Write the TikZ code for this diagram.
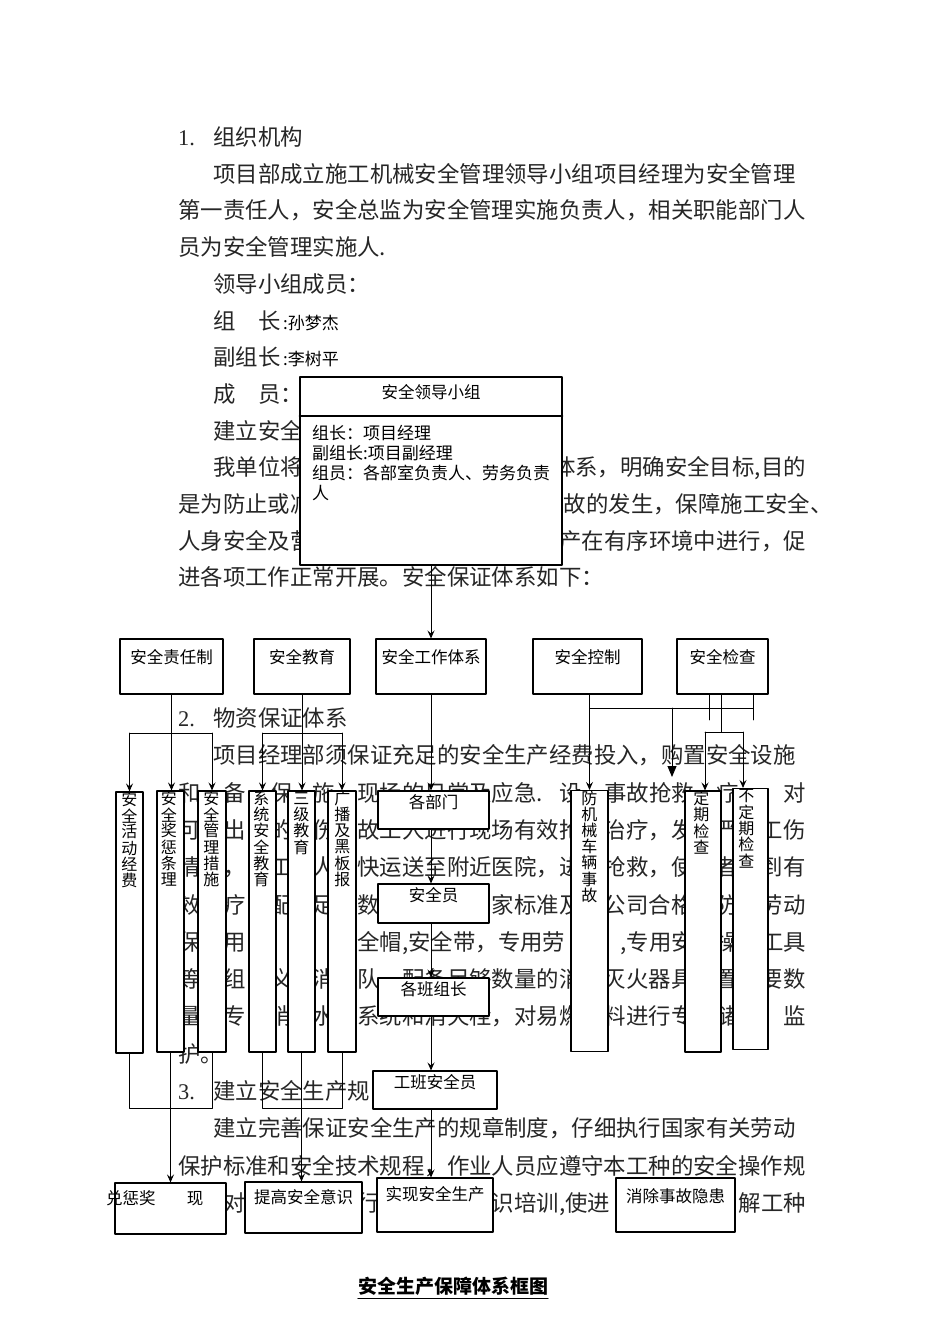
\documentclass[tikz,border=0pt]{standalone}
\usepackage{fontspec}
\setmainfont{Noto Sans CJK SC}
\newfontfamily\numfont{Liberation Serif}
\usetikzlibrary{arrows.meta,calc}

\newcommand{\bodysize}{\fontsize{22.4}{26}\selectfont}
\newcommand{\boxsize}{\fontsize{16.5}{20}\selectfont}
\newcommand{\memsize}{\fontsize{17}{20}\selectfont}
\newcommand{\colsize}{\fontsize{16}{16}\selectfont}

% one character per row down a tall box: [x offset] box, prefix, characters
\newcommand{\colchars}[4][14]{%
  \foreach \vchar [count=\idx] in {#4}
    \node[colchar] (#3\idx) at ($(#2.north west)+(#1,8+16.2*\idx-16.2)$) {\vchar};}

\begin{document}
\begin{tikzpicture}[
  x=1pt, y=-1pt,
  line cap=round,
  line join=round,
  >={Stealth[length=8pt,width=7pt,inset=3pt]},
  para/.style={anchor=base west,inner sep=0pt,font=\bodysize,text=black!85},
  paraend/.style={anchor=base east,inner sep=0pt,font=\bodysize,text=black!85},
  paranum/.style={anchor=base west,inner sep=0pt,font=\numfont\bodysize,text=black!85},
  member/.style={anchor=base west,inner sep=0pt,font=\memsize},
  unit/.style={draw,fill=white,line width=1.1pt,inner sep=0pt},
  tall/.style={unit,minimum width=#1,minimum height=261pt},
  chain/.style={unit,minimum width=111pt,minimum height=38pt},
  boxtext/.style={anchor=center,inner sep=0pt,font=\boxsize,yshift=-#1},
  colchar/.style={inner sep=0pt,font=\colsize},
  link/.style={line width=0.9pt},
  arrowlink/.style={link,->},
  bigtip/.style={link,-{Triangle[length=11pt,width=9pt]}}
]
% Page.
\fill[white] (0,0) rectangle (950,1344);
\useasboundingbox (0,0) rectangle (950,1344);

% Running text; only the parts left uncovered by the chart.
\node[paranum] (n1) at (178,145.5) {1.};
\node[para] (l00) at (213,145.5) {组织机构};
\node[para] (l01) at (213,182.2) {项目部成立施工机械安全管理领导小组项目经理为安全管理};
\node[para] (l02) at (178,218.9) {第一责任人，安全总监为安全管理实施负责人，相关职能部门人};
\node[para] (l03) at (178,255.6) {员为安全管理实施人.};
\node[para] (l04) at (213,292.3) {领导小组成员：};
\node[para] (l05) at (213,329) {组　长};
\node[member] (l05b) at (283,329) {:孙梦杰};
\node[para] (l06) at (213,365.7) {副组长};
\node[member] (l06b) at (283,365.7) {:李树平};
\node[para] (l07) at (213,402.4) {成　员：};
\node[para] (l08) at (213,439.1) {建立安全};
\node[para] (l09) at (213,475.8) {我单位将};
\node[paraend] (l09b) at (806,475.8) {体系，明确安全目标,目的};
\node[para] (l10) at (178,512.5) {是为防止或减};
\node[para] (l10b) at (563.6,512.5) {故的发生，保障施工安全、};
\node[para] (l11) at (178,549.2) {人身安全及营};
\node[paraend] (l11b) at (806,549.2) {产在有序环境中进行，促};
\node[para] (l12) at (178,585.9) {进各项工作正常开展。安全保证体系如下：};

\node[paranum] (n2) at (178,726.5) {2.};
\node[para] (p00) at (213,726.5) {物资保证体系};
\node[para] (p01) at (213,763.8) {项目经理部须保证充足的安全生产经费投入，购置安全设施};
\foreach \p/\t [count=\s] in {0/和,2/备,4.13/保,6/施,8/现场的日常及应急.}
  \node[para] (p02s\s) at (178+22.4*\p,801.1) {\t};
\node[paraend] (p02r1) at (582,801.1) {设};
\node[paraend] (p02r2) at (694,801.1) {事故抢救};
\node[paraend] (p02r3) at (738.8,801.1) {疗};
\node[paraend] (p02r4) at (806,801.1) {，对};
\foreach \p/\t [count=\s] in {0/可,2/出,4.13/的,6/伤,8/故工人进行现场有效抢,19/治疗，发,24/严,26/工伤}
  \node[para] (p03s\s) at (178+22.4*\p,838.4) {\t};
\foreach \p/\t [count=\s] in {0/情,2/，,4.13/工,6/人,8/快运送至附近医院，进,19/抢救，使,24/者,26/到有}
  \node[para] (p04s\s) at (178+22.4*\p,875.7) {\t};
\foreach \p/\t [count=\s] in {0/效,2/疗,4.13/配,6/足,8/数,14/家标准及,19/公司合格,24/防,26/劳动}
  \node[para] (p05s\s) at (178+22.4*\p,913) {\t};
\foreach \p/\t [count=\s] in {0/保,2/用,6/（,8/{全帽,安全带，专用劳}}
  \node[para] (p06s\s) at (178+22.4*\p,950.3) {\t};
\node[paraend] (p06r1) at (694,950.3) {,专用安};
\node[paraend] (p06r2) at (738.8,950.3) {操};
\node[paraend] (p06r3) at (806,950.3) {工具};
\foreach \p/\t [count=\s] in {0/等,2/组,4.13/义,6/消,8/队,10/配备足够数量的消,19/灭火器具,24/置,26/要数}
  \node[para] (p07s\s) at (178+22.4*\p,987.6) {\t};
\foreach \p/\t [count=\s] in {0/量,2/专,4.13/消,6/水,8/系统和消火栓，对易燃,19/料进行专,24/储,27/监}
  \node[para] (p08s\s) at (178+22.4*\p,1024.9) {\t};
\node[para] (p09) at (178,1062.2) {护。};

\node[paranum] (n3) at (178,1099.5) {3.};
\node[para] (q00) at (213,1099.5) {建立安全生产规};
\node[para] (q01) at (213,1136.8) {建立完善保证安全生产的规章制度，仔细执行国家有关劳动};
\node[para] (q02) at (178,1174.1) {保护标准和安全技术规程，作业人员应遵守本工种的安全操作规};
\foreach \p/\t [count=\s] in {2/对,8/行,14/{识培训,使进}}
  \node[para] (q03s\s) at (178+22.4*\p,1211.4) {\t};
\node[paraend] (q03r) at (806,1211.4) {解工种};

% Leading group.
\node[unit,minimum width=262pt,minimum height=188pt,
  label={[boxtext=16pt]north:安全领导小组}] (lead) at (431,471) {};
\coordinate (divy) at (0,416);
\draw[line width=1.6pt] (lead.west |- divy) -- (lead.east |- divy);
\node[member] (mem1) at (312,439.5) {组长：项目经理};
\node[member] (mem2) at (312,459.5) {副组长:项目副经理};
\node[member] (mem3) at (312,479.5) {组员：各部室负责人、劳务负责};
\node[member] (mem4) at (312,499.5) {人};

% Five branches.
\node[unit,minimum width=103pt,minimum height=55pt,
  label={[boxtext=19pt]north:安全责任制}] (resp) at (171.5,666.5) {};
\node[unit,minimum width=96pt,minimum height=55pt,
  label={[boxtext=19pt]north:安全教育}] (edu) at (302,666.5) {};
\node[unit,minimum width=110pt,minimum height=55pt,
  label={[boxtext=19pt]north:安全工作体系}] (work) at (431,666.5) {};
\node[unit,minimum width=109pt,minimum height=55pt,
  label={[boxtext=19pt]north:安全控制}] (ctrl) at (587.5,666.5) {};
\node[unit,minimum width=91pt,minimum height=55pt,
  label={[boxtext=19pt]north:安全检查}] (insp) at (722.5,666.5) {};

% Tall columns.
\node[tall=27pt] (fund) at (129.5,922.5) {};
\node[tall=27pt] (award) at (170.5,921.5) {};
\node[tall=28pt] (meas) at (212,921.5) {};
\node[tall=27pt] (sysedu) at (262.5,921.5) {};
\node[tall=27pt] (three) at (301.5,921.5) {};
\node[tall=28pt] (board) at (342,921.5) {};
\node[tall=37pt] (mach) at (589.5,921) {};
\node[tall=36pt] (reg) at (703,921.5) {};
\node[tall=35pt] (irreg) at (750.5,919) {};
\colchars{fund}{fund}{安,全,活,动,经,费}
\colchars[12.5]{award}{award}{安,全,奖,惩,条,理}
\colchars{meas}{meas}{安,全,管,理,措,施}
\colchars[13]{sysedu}{sysedu}{系,统,安,全,教,育}
\colchars{three}{three}{三,级,教,育}
\colchars[15]{board}{board}{广,播,及,黑,板,报}
\colchars[19]{mach}{mach}{防,机,械,车,辆,事,故}
\colchars[17]{reg}{reg}{定,期,检,查}
\colchars{irreg}{irreg}{不,定,期,检,查}

% Work system chain.
\node[chain,label={[boxtext=12pt]north:各部门}] (dept) at (433.5,810) {};
\node[chain,minimum height=39pt,label={[boxtext=12pt]north:安全员}] (officer) at (433.5,903.5) {};
\node[chain,label={[boxtext=12pt]north:各班组长}] (leader) at (433.5,997) {};
\node[chain,minimum width=124pt,label={[boxtext=12pt]north:工班安全员}] (crew) at (435,1090) {};

% Results.
\node[unit,minimum width=111pt,minimum height=51pt,
  label={[boxtext=16pt,xshift=-15.75pt]north:兑惩奖\hspace{31.5pt}现}] (reward) at (170.5,1208.5) {};
\node[unit,minimum width=117pt,minimum height=51pt,
  label={[boxtext=16pt]north:提高安全意识}] (aware) at (303.5,1207.5) {};
\node[unit,minimum width=116pt,minimum height=54pt,
  label={[boxtext=17pt]north:实现安全生产}] (prod) at (435,1205) {};
\node[unit,minimum width=119pt,minimum height=54pt,
  label={[boxtext=19pt]north:消除事故隐患}] (hazard) at (675.5,1205) {};

% Connectors.
\draw[arrowlink] (lead.south) -- (work.north);

\coordinate (forkA) at (0,733);
\draw[arrowlink] (resp.south) -- (resp.south |- award.north);
\draw[link] (fund.north |- forkA) -- (meas.north |- forkA);
\draw[arrowlink] (fund.north |- forkA) -- (fund.north);
\draw[arrowlink] (meas.north |- forkA) -- (meas.north);

\draw[arrowlink] (edu.south) -- (edu.south |- three.north);
\draw[link] (sysedu.north |- forkA) -- (board.north |- forkA);
\draw[arrowlink] (sysedu.north |- forkA) -- (sysedu.north);
\draw[arrowlink] (board.north |- forkA) -- (board.north);

\coordinate (spine) at (431,0);
\draw[arrowlink] (work.south) -- (spine |- dept.north);
\draw[arrowlink] (spine |- dept.south) -- (spine |- officer.north);
\draw[arrowlink] (spine |- officer.south) -- (spine |- leader.north);
\draw[arrowlink] (spine |- leader.south) -- (spine |- crew.north);
\draw[arrowlink] (spine |- crew.south) -- (spine |- prod.north);

\coordinate (forkC) at (0,708);
\coordinate (stubL) at (709,720);
\coordinate (stubR) at (753,720);
\coordinate (ctrldrop) at (672,708);
\coordinate (ctrltip) at (672,777);
\draw[arrowlink] (mach.north |- ctrl.south) -- (mach.north);
\draw[link] (mach.north |- forkC) -- (stubR |- forkC);
\draw[bigtip] (ctrldrop) -- (ctrltip);
\draw[link] (stubL |- insp.south) -- (stubL);
\draw[link] (stubR |- insp.south) -- (stubR);

\coordinate (forkI) at (0,732);
\coordinate (inspdrop) at (721,0);
\coordinate (regin) at (705,0);
\coordinate (irregin) at (743,0);
\draw[link] (inspdrop |- insp.south) -- (inspdrop |- forkI);
\draw[link] (regin |- forkI) -- (irregin |- forkI);
\draw[arrowlink] (regin |- forkI) -- (regin |- reg.north);
\draw[arrowlink] (irregin |- forkI) -- (irregin |- irreg.north);

\coordinate (forkB) at (0,1108);
\draw[link] (fund.south) -- (fund.south |- forkB) -- (meas.south |- forkB) -- (meas.south);
\draw[arrowlink] (award.south) -- (award.south |- reward.north);
\draw[link] (sysedu.south) -- (sysedu.south |- forkB) -- (board.south |- forkB) -- (board.south);
\draw[arrowlink] (three.south) -- (three.south |- aware.north);

% Caption.
\node[inner sep=0pt,font=\fontsize{19}{22}\selectfont\bfseries] (cap) at (453,1286) {安全生产保障体系框图};
\draw[line width=1pt] ($(cap.south west)+(0,3)$) -- ($(cap.south east)+(0,3)$);
\end{tikzpicture}
\end{document}
